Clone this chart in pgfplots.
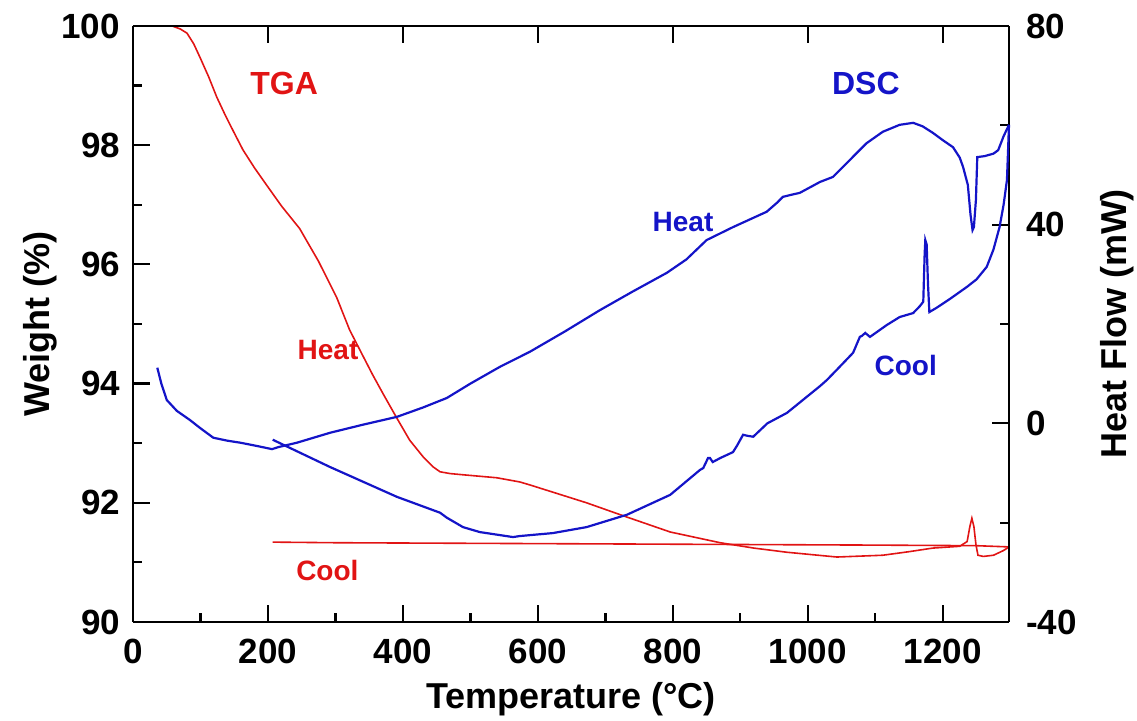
\documentclass[border=0pt]{standalone}
\usepackage{fontspec}
\setmainfont{Liberation Sans}
\usepackage{pgfplots}
\pgfplotsset{compat=1.18}
\definecolor{tgared}{RGB}{225,20,20}
\definecolor{dscblue}{RGB}{20,20,200}

\pgfplotstableread{
x y
58 100.0
70 99.95
80 99.88
90 99.70
99 99.48
112 99.15
124 98.81
136 98.52
148 98.25
163 97.92
180 97.62
198 97.33
220 96.98
247 96.60
275 96.05
302 95.44
321 94.90
340 94.48
355 94.15
372 93.80
391 93.42
410 93.05
430 92.77
445 92.60
455 92.52
470 92.49
489 92.47
539 92.42
573 92.35
588 92.30
630 92.15
672 92.00
732 91.76
796 91.51
870 91.33
920 91.24
969 91.17
1043 91.09
1111 91.12
1150 91.18
1185 91.24
1225 91.27
1236 91.35
1240 91.60
1243 91.74
1246 91.60
1249 91.30
1252 91.12
1260 91.10
1275 91.12
1290 91.20
1298 91.26
}\tgaheat

\pgfplotstableread{
x y
1298 91.26
1250 91.28
1100 91.29
900 91.30
700 91.31
500 91.32
300 91.33
207 91.34
}\tgacool

\pgfplotstableread{
x y
36 11.2
42 8.0
50 4.7
65 2.5
84 0.7
100 -1.0
119 -2.9
140 -3.5
159 -3.9
185 -4.6
206 -5.2
215 -4.8
243 -3.9
292 -1.9
340 -0.3
391 1.3
430 3.2
465 5.1
500 8.0
544 11.4
588 14.4
640 18.5
692 22.8
740 26.5
791 30.3
820 33.0
850 36.9
889 39.5
939 42.6
955 44.5
963 45.6
975 46.0
988 46.4
1018 48.6
1037 49.6
1062 53.0
1087 56.4
1111 58.7
1136 60.1
1156 60.5
1170 59.8
1185 58.5
1200 57.0
1215 55.6
1225 53.5
1230 51.6
1237 48.0
1241 42.0
1244 38.9
1246 39.5
1249 45.0
1251 53.6
1262 53.8
1275 54.3
1282 55.0
1290 57.8
1298 60.1
}\dscheat

\pgfplotstableread{
x y
1298 60.1
1295 49.0
1290 44.0
1284 39.5
1275 35.0
1265 31.5
1250 29.0
1236 27.5
1210 25.0
1190 23.2
1180 22.4
1178 28.0
1176 36.0
1174 36.9
1173 34.0
1171 24.5
1166 23.6
1156 22.2
1136 21.4
1117 19.8
1092 17.4
1085 18.2
1080 17.6
1077 17.4
1067 14.2
1043 10.8
1028 8.7
1018 7.5
969 2.1
940 0.0
919 -2.7
910 -2.5
904 -2.3
895 -4.5
889 -5.8
870 -7.0
859 -7.8
855 -7.0
852 -7.0
845 -9.0
840 -9.4
796 -14.4
732 -18.4
672 -20.9
622 -22.1
573 -22.7
563 -22.9
514 -21.9
489 -20.9
465 -19.0
455 -18.0
391 -14.8
292 -8.8
207 -3.3
}\dsccool

\begin{document}
\begin{tikzpicture}
\pgfplotsset{
  every axis/.append style={
    scale only axis, width=438pt, height=298pt,
    xmin=0, xmax=1298,
    axis line style={line width=1.3pt},
    every tick/.style={black, line width=1.1pt},
    major tick length=8.5pt, minor tick length=4.5pt,
    tick align=inside,
    ticklabel style={font=\fontsize{17.5}{19}\selectfont\bfseries},
    label style={font=\fontsize{18}{20}\selectfont\bfseries},
    /pgf/number format/assume math mode=true,
    /pgf/number format/1000 sep={},
    clip=false,
  }
}
\begin{axis}[name=ax,
  ymin=90, ymax=100,
  axis y line*=left, axis x line*=bottom,
  xtick={0,200,...,1200}, minor x tick num=1,
  ytick={90,92,...,100}, minor y tick num=1,
  xticklabel style={yshift=-5pt},
  yticklabel style={xshift=-3pt},
  xlabel={Temperature (°C)},
  ylabel={Weight (\%)},
  xlabel style={at={(axis description cs:0.5,-0.13)}, anchor=center},
  ylabel style={at={(axis description cs:-0.106,0.5)}, anchor=center, rotate=0},
]
\addplot[tgared, line width=0.8pt] table[x=x,y=y] {\tgaheat};
\addplot[tgared, line width=0.8pt] table[x=x,y=y] {\tgacool};
\node[text=tgared, font=\fontsize{16}{18}\selectfont\bfseries] at (axis cs:224,99.04) {TGA};
\node[text=dscblue, font=\fontsize{16}{18}\selectfont\bfseries] at (axis cs:1086,99.04) {DSC};
\node[text=tgared, font=\fontsize{14}{16}\selectfont\bfseries] at (axis cs:289,94.56) {Heat};
\node[text=tgared, font=\fontsize{14}{16}\selectfont\bfseries] at (axis cs:288,90.87) {Cool};
\node[text=dscblue, font=\fontsize{14}{16}\selectfont\bfseries] at (axis cs:815,96.71) {Heat};
\node[text=dscblue, font=\fontsize{14}{16}\selectfont\bfseries] at (axis cs:1145,94.30) {Cool};
\end{axis}
\begin{axis}[
  ymin=-40, ymax=80,
  axis y line*=right, axis x line*=top,
  xtick={0,200,...,1200}, xticklabels={},
  ytick={-40,0,40,80}, minor y tick num=1,
  yticklabel style={xshift=5pt},
  ylabel={Heat Flow (mW)},
  ylabel style={at={(axis description cs:1.124,0.5)}, anchor=center},
]
\addplot[dscblue, line width=1.1pt] table[x=x,y=y] {\dscheat};
\addplot[dscblue, line width=1.1pt] table[x=x,y=y] {\dsccool};
\end{axis}
\pgfresetboundingbox
\path[use as bounding box] (ax.south west) ++(-66.5pt,-49.5pt) rectangle ++(568.5pt,360.5pt);
\end{tikzpicture}
\end{document}
